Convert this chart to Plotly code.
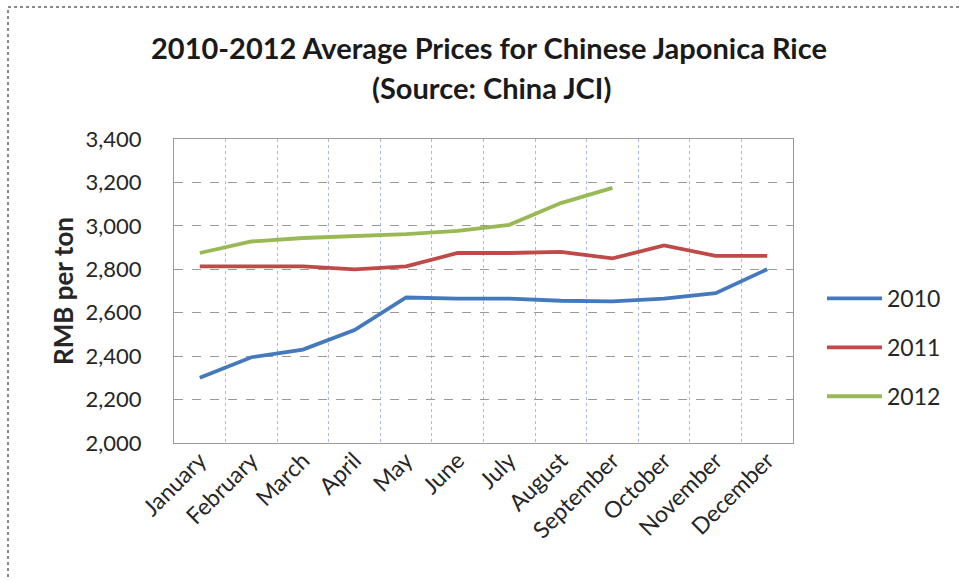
import plotly.graph_objects as go

# Monthly average prices (RMB per ton) for Chinese japonica rice
months = ["January", "February", "March", "April", "May", "June",
          "July", "August", "September", "October", "November", "December"]
price_2010 = [2300, 2395, 2430, 2520, 2670, 2665, 2665, 2655, 2652, 2665, 2690, 2800]
price_2011 = [2813, 2813, 2813, 2800, 2813, 2875, 2875, 2880, 2850, 2910, 2862, 2862]
price_2012 = [2875, 2928, 2944, 2951, 2962, 2977, 3005, 3105, 3175]

series_names = ["2010", "2011", "2012"]
series_values = [price_2010, price_2011, price_2012]
series_colors = ["#4579BE", "#BE4B48", "#98B954"]

y_ticks = [2000, 2200, 2400, 2600, 2800, 3000, 3200, 3400]

FONT = "Lato"
W, H = 959, 580
ML, MR, MT, MB = 174, 166, 139, 137
PW, PH = W - ML - MR, H - MT - MB

fig = go.Figure()
for name, vals, col in zip(series_names, series_values, series_colors):
    fig.add_trace(go.Scatter(
        x=months[:len(vals)], y=vals, name=name, mode="lines",
        line=dict(color=col, width=3.8),
        legendgroup=name,
    ))

fig.update_layout(
    width=W, height=H,
    margin=dict(l=ML, r=MR, t=MT, b=MB),
    paper_bgcolor="white", plot_bgcolor="white",
    font=dict(family=FONT, size=22, color="#262626"),
    showlegend=True,
    legend=dict(
        x=(822 - ML) / PW, y=(H - MB - 277) / PH, xanchor="left", yanchor="top",
        font=dict(size=23, color="#262626"),
        traceorder="grouped", tracegroupgap=16,
        itemwidth=55, bgcolor="rgba(0,0,0,0)",
    ),
    xaxis=dict(
        type="category", categoryorder="array", categoryarray=months,
        range=[-0.5, len(months) - 0.5],
        tickson="boundaries", tickangle=-45,
        showgrid=True, gridcolor="#aab6ee", griddash="dot", gridwidth=1,
        showline=True, linecolor="#9a9a9a", mirror=True, linewidth=1,
        ticks="", tickfont=dict(size=23), ticklabelstandoff=-6,
    ),
    yaxis=dict(
        range=[2000, 3400], tickvals=y_ticks, tickformat=",",
        showgrid=True, gridcolor="#9a9a9a", griddash="dash", gridwidth=1,
        showline=True, linecolor="#9a9a9a", mirror=True, linewidth=1,
        ticks="", ticklabelstandoff=27, tickfont=dict(size=22),
        title=dict(text="<b>RMB per ton</b>", font=dict(size=26), standoff=4),
        zeroline=False,
    ),
)

# Chart title, two lines
fig.add_annotation(text="<b>2010-2012 Average Prices for Chinese Japonica Rice</b>",
                   xref="paper", yref="paper", x=(489 - ML) / PW, y=(H - MB - 48) / PH,
                   xanchor="center", yanchor="middle", showarrow=False,
                   font=dict(size=29, color="#1a1a1a"))
fig.add_annotation(text="<b>(Source: China JCI)</b>",
                   xref="paper", yref="paper", x=(491 - ML) / PW, y=(H - MB - 88) / PH,
                   xanchor="center", yanchor="middle", showarrow=False,
                   font=dict(size=29, color="#1a1a1a"))

# Dashed outer chart border (top and left edges visible)
fig.add_shape(type="rect", xref="paper", yref="paper",
              x0=(8 - ML) / PW, x1=(W + 20 - ML) / PW,
              y0=(H - MB - (H + 20)) / PH, y1=(H - MB - 7) / PH,
              line=dict(color="#8a8a8a", width=2, dash="dot"), layer="below")

fig.write_html("out.html")
